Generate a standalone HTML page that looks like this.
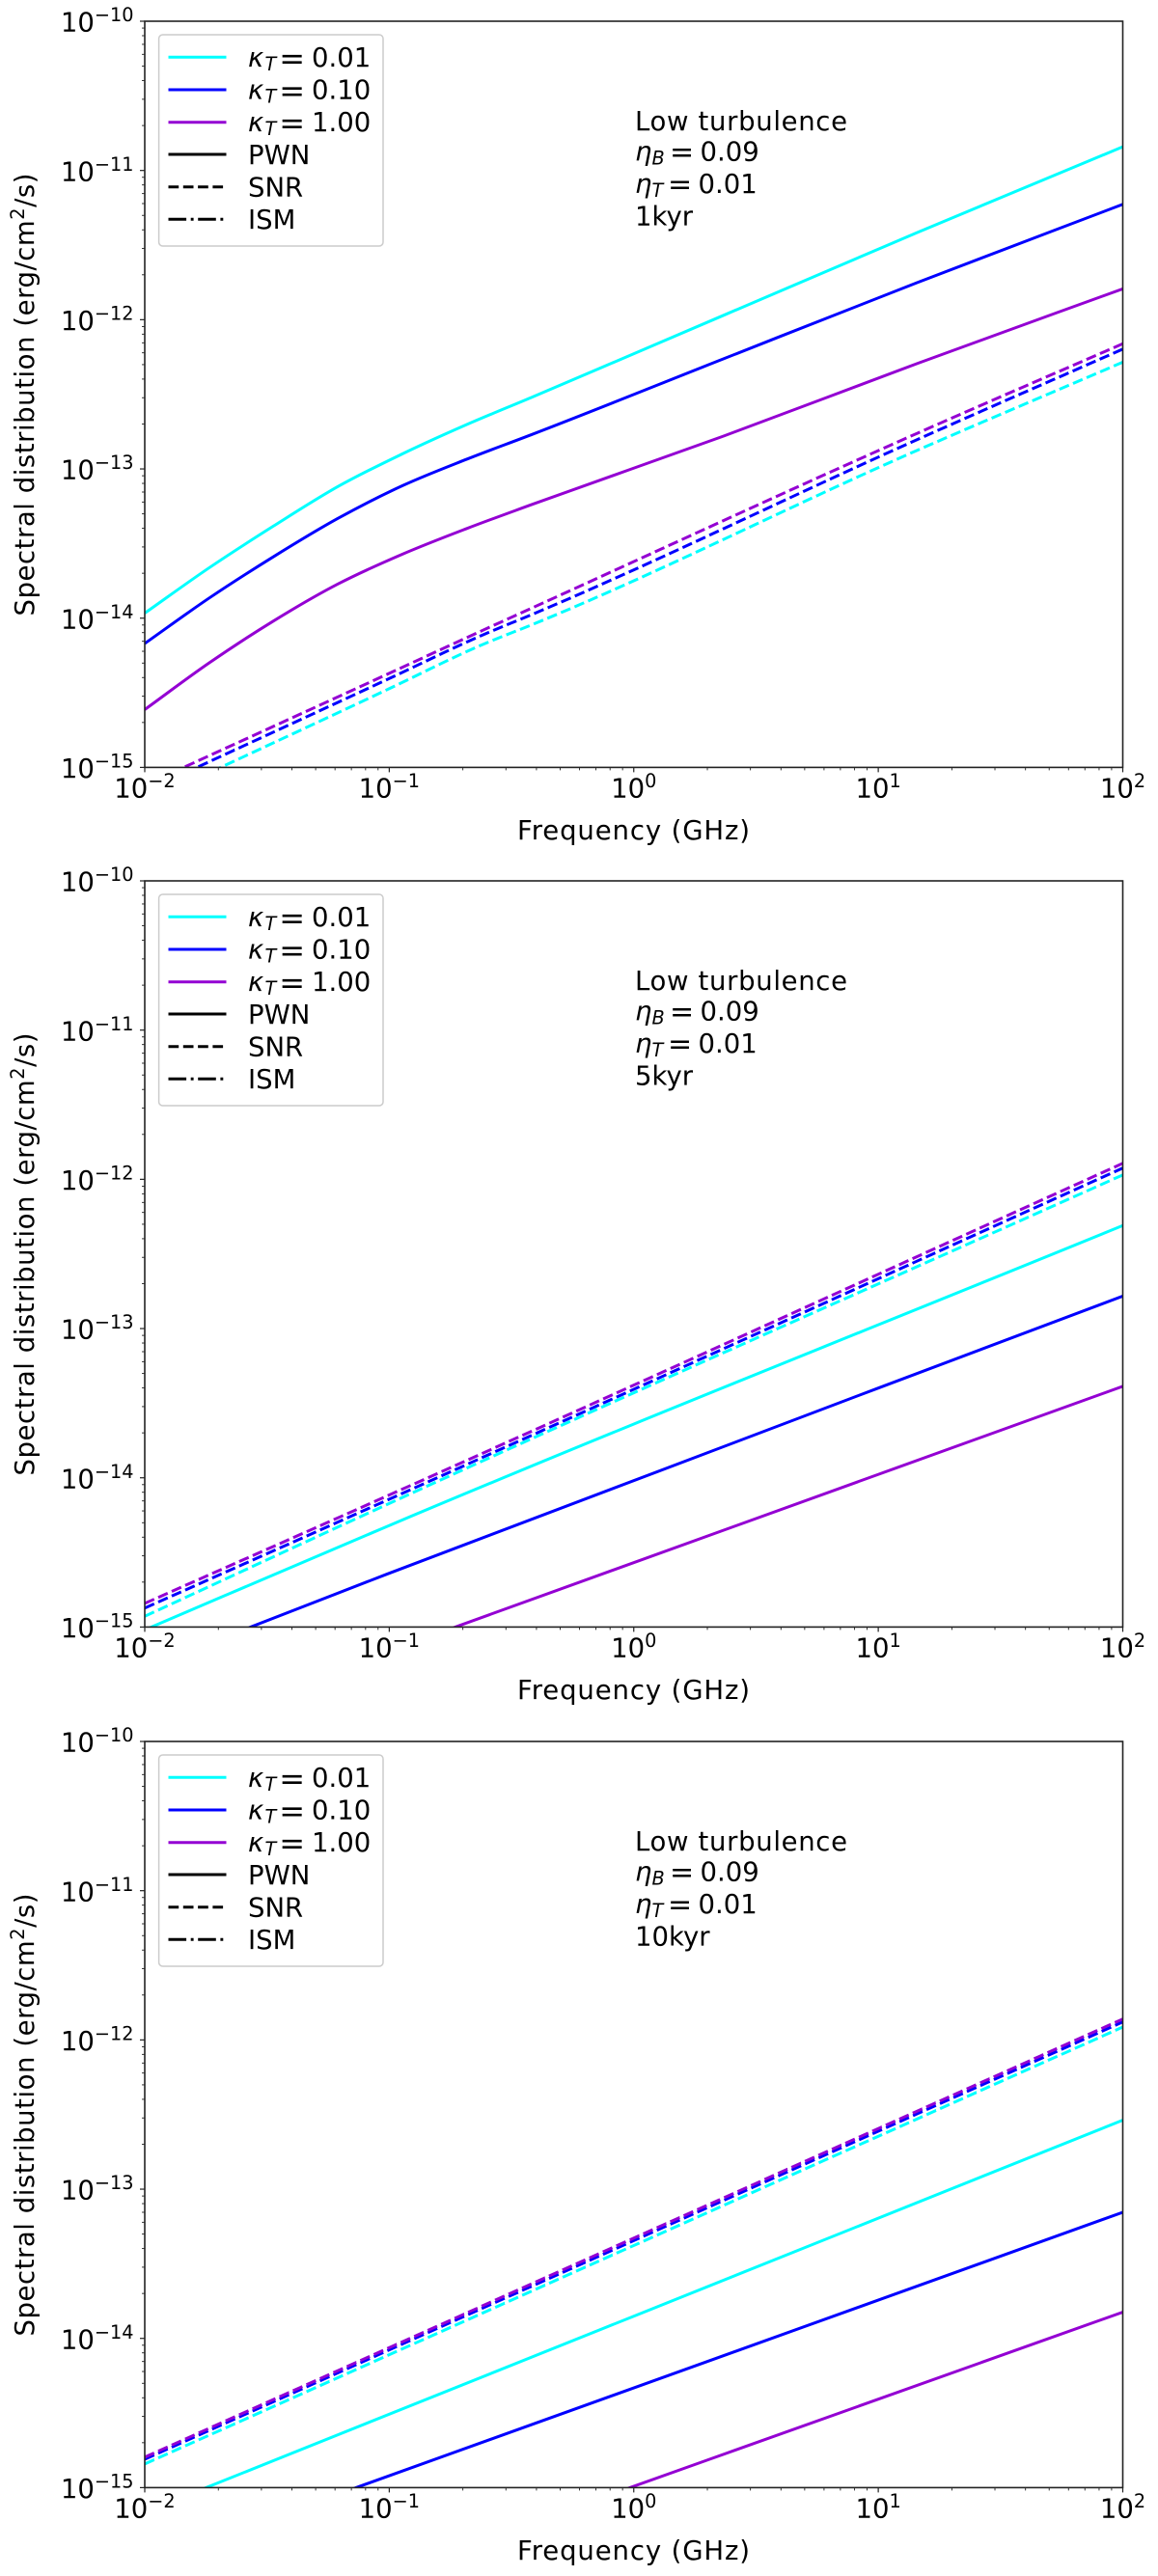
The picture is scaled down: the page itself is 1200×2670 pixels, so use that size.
<!DOCTYPE html>
<html lang="en">
<head>
<meta charset="utf-8">
<title>Spectral distribution panels</title>
<style>
html,body{margin:0;padding:0;background:#fff;}
svg{display:block;}
text{font-family:"DejaVu Sans","Liberation Sans",sans-serif;fill:#000;font-size:27.5px;}
.it{font-style:italic;}
.sub{font-style:italic;font-size:19.25px;}
.sup{font-size:19.25px;}
.eq{font-size:32px;}
.eqa{font-size:30px;}
.ln{fill:none;stroke-width:3;}
</style>
</head>
<body>
<svg id="figure" xmlns="http://www.w3.org/2000/svg" width="1200" height="2670" viewBox="0 0 1200 2670">
<rect x="0" y="0" width="1200" height="2670" fill="#fff"/>
<defs>
<clipPath id="clip-0"><rect x="150" y="22" width="1013.5" height="773.4"/></clipPath>
<clipPath id="clip-1"><rect x="150" y="913" width="1013.5" height="773.4"/></clipPath>
<clipPath id="clip-2"><rect x="150" y="1805" width="1013.5" height="773.4"/></clipPath>
</defs>

<!-- PANEL 1 -->
<g id="panel-0">
<g id="series-0" clip-path="url(#clip-0)"></g>
<g id="ticks-0"></g>
<rect x="150" y="22" width="1013.5" height="773.4" fill="none" stroke="#222" stroke-width="1.6"/>
<text transform="translate(35,638.5) rotate(-90)" textLength="459" lengthAdjust="spacing">Spectral distribution (erg/cm<tspan class="sup" dy="-10">2</tspan><tspan dy="10">/s)</tspan></text>
<text x="536" y="870" textLength="241" lengthAdjust="spacing">Frequency (GHz)</text>
<g>
<rect x="164.6" y="36" width="232.4" height="219" rx="4" fill="#fff" stroke="#ccc" stroke-width="1.5"/>
<line x1="174.5" x2="234.5" y1="59.3" y2="59.3" class="ln" stroke="#00ffff"/>
<text x="257" y="69"><tspan class="it">κ</tspan><tspan class="sub" x="274.5" dy="4">T</tspan><tspan class="eq" x="289.3" dy="-1.5">=</tspan><tspan x="323" dy="-2.5">0.01</tspan></text>
<line x1="174.5" x2="234.5" y1="93" y2="93" class="ln" stroke="#0000ff"/>
<text x="257" y="102.6"><tspan class="it">κ</tspan><tspan class="sub" x="274.5" dy="4">T</tspan><tspan class="eq" x="289.3" dy="-1.5">=</tspan><tspan x="323" dy="-2.5">0.10</tspan></text>
<line x1="174.5" x2="234.5" y1="126.7" y2="126.7" class="ln" stroke="#9400d3"/>
<text x="257" y="136.2"><tspan class="it">κ</tspan><tspan class="sub" x="274.5" dy="4">T</tspan><tspan class="eq" x="289.3" dy="-1.5">=</tspan><tspan x="323" dy="-2.5">1.00</tspan></text>
<line x1="174.5" x2="234.5" y1="160" y2="160" class="ln" stroke="#000"/>
<text x="257" y="169.8">PWN</text>
<line x1="174.5" x2="234.5" y1="193.7" y2="193.7" class="ln" stroke="#000" stroke-dasharray="10.7 4.6"/>
<text x="257" y="203.4">SNR</text>
<line x1="174.5" x2="234.5" y1="227.3" y2="227.3" class="ln" stroke="#000" stroke-dasharray="18.6 4.6 2.9 4.6"/>
<text x="257" y="237">ISM</text>
</g>
<g>
<text x="658" y="135" textLength="220" lengthAdjust="spacing">Low turbulence</text>
<text x="658" y="166.7"><tspan class="it">η</tspan><tspan class="sub" x="675.5" dy="4">B</tspan><tspan class="eqa" x="694" dy="-3">=</tspan><tspan x="725.5" dy="-1">0.09</tspan></text>
<text x="658" y="200"><tspan class="it">η</tspan><tspan class="sub" x="675.5" dy="4">T</tspan><tspan class="eqa" x="692" dy="-3">=</tspan><tspan x="723.5" dy="-1">0.01</tspan></text>
<text x="658" y="233.3">1kyr</text>
</g>
</g>

<!-- PANEL 2 -->
<g id="panel-1">
<g id="series-1" clip-path="url(#clip-1)"></g>
<g id="ticks-1"></g>
<rect x="150" y="913" width="1013.5" height="773.4" fill="none" stroke="#222" stroke-width="1.6"/>
<g transform="translate(0,891)">
<text transform="translate(35,638.5) rotate(-90)" textLength="459" lengthAdjust="spacing">Spectral distribution (erg/cm<tspan class="sup" dy="-10">2</tspan><tspan dy="10">/s)</tspan></text>
<text x="536" y="870" textLength="241" lengthAdjust="spacing">Frequency (GHz)</text>
<g>
<rect x="164.6" y="36" width="232.4" height="219" rx="4" fill="#fff" stroke="#ccc" stroke-width="1.5"/>
<line x1="174.5" x2="234.5" y1="59.3" y2="59.3" class="ln" stroke="#00ffff"/>
<text x="257" y="69"><tspan class="it">κ</tspan><tspan class="sub" x="274.5" dy="4">T</tspan><tspan class="eq" x="289.3" dy="-1.5">=</tspan><tspan x="323" dy="-2.5">0.01</tspan></text>
<line x1="174.5" x2="234.5" y1="93" y2="93" class="ln" stroke="#0000ff"/>
<text x="257" y="102.6"><tspan class="it">κ</tspan><tspan class="sub" x="274.5" dy="4">T</tspan><tspan class="eq" x="289.3" dy="-1.5">=</tspan><tspan x="323" dy="-2.5">0.10</tspan></text>
<line x1="174.5" x2="234.5" y1="126.7" y2="126.7" class="ln" stroke="#9400d3"/>
<text x="257" y="136.2"><tspan class="it">κ</tspan><tspan class="sub" x="274.5" dy="4">T</tspan><tspan class="eq" x="289.3" dy="-1.5">=</tspan><tspan x="323" dy="-2.5">1.00</tspan></text>
<line x1="174.5" x2="234.5" y1="160" y2="160" class="ln" stroke="#000"/>
<text x="257" y="169.8">PWN</text>
<line x1="174.5" x2="234.5" y1="193.7" y2="193.7" class="ln" stroke="#000" stroke-dasharray="10.7 4.6"/>
<text x="257" y="203.4">SNR</text>
<line x1="174.5" x2="234.5" y1="227.3" y2="227.3" class="ln" stroke="#000" stroke-dasharray="18.6 4.6 2.9 4.6"/>
<text x="257" y="237">ISM</text>
</g>
<g>
<text x="658" y="135" textLength="220" lengthAdjust="spacing">Low turbulence</text>
<text x="658" y="166.7"><tspan class="it">η</tspan><tspan class="sub" x="675.5" dy="4">B</tspan><tspan class="eqa" x="694" dy="-3">=</tspan><tspan x="725.5" dy="-1">0.09</tspan></text>
<text x="658" y="200"><tspan class="it">η</tspan><tspan class="sub" x="675.5" dy="4">T</tspan><tspan class="eqa" x="692" dy="-3">=</tspan><tspan x="723.5" dy="-1">0.01</tspan></text>
<text x="658" y="233.3">5kyr</text>
</g>
</g>
</g>

<!-- PANEL 3 -->
<g id="panel-2">
<g id="series-2" clip-path="url(#clip-2)"></g>
<g id="ticks-2"></g>
<rect x="150" y="1805" width="1013.5" height="773.4" fill="none" stroke="#222" stroke-width="1.6"/>
<g transform="translate(0,1783)">
<text transform="translate(35,638.5) rotate(-90)" textLength="459" lengthAdjust="spacing">Spectral distribution (erg/cm<tspan class="sup" dy="-10">2</tspan><tspan dy="10">/s)</tspan></text>
<text x="536" y="870" textLength="241" lengthAdjust="spacing">Frequency (GHz)</text>
<g>
<rect x="164.6" y="36" width="232.4" height="219" rx="4" fill="#fff" stroke="#ccc" stroke-width="1.5"/>
<line x1="174.5" x2="234.5" y1="59.3" y2="59.3" class="ln" stroke="#00ffff"/>
<text x="257" y="69"><tspan class="it">κ</tspan><tspan class="sub" x="274.5" dy="4">T</tspan><tspan class="eq" x="289.3" dy="-1.5">=</tspan><tspan x="323" dy="-2.5">0.01</tspan></text>
<line x1="174.5" x2="234.5" y1="93" y2="93" class="ln" stroke="#0000ff"/>
<text x="257" y="102.6"><tspan class="it">κ</tspan><tspan class="sub" x="274.5" dy="4">T</tspan><tspan class="eq" x="289.3" dy="-1.5">=</tspan><tspan x="323" dy="-2.5">0.10</tspan></text>
<line x1="174.5" x2="234.5" y1="126.7" y2="126.7" class="ln" stroke="#9400d3"/>
<text x="257" y="136.2"><tspan class="it">κ</tspan><tspan class="sub" x="274.5" dy="4">T</tspan><tspan class="eq" x="289.3" dy="-1.5">=</tspan><tspan x="323" dy="-2.5">1.00</tspan></text>
<line x1="174.5" x2="234.5" y1="160" y2="160" class="ln" stroke="#000"/>
<text x="257" y="169.8">PWN</text>
<line x1="174.5" x2="234.5" y1="193.7" y2="193.7" class="ln" stroke="#000" stroke-dasharray="10.7 4.6"/>
<text x="257" y="203.4">SNR</text>
<line x1="174.5" x2="234.5" y1="227.3" y2="227.3" class="ln" stroke="#000" stroke-dasharray="18.6 4.6 2.9 4.6"/>
<text x="257" y="237">ISM</text>
</g>
<g>
<text x="658" y="135" textLength="220" lengthAdjust="spacing">Low turbulence</text>
<text x="658" y="166.7"><tspan class="it">η</tspan><tspan class="sub" x="675.5" dy="4">B</tspan><tspan class="eqa" x="694" dy="-3">=</tspan><tspan x="725.5" dy="-1">0.09</tspan></text>
<text x="658" y="200"><tspan class="it">η</tspan><tspan class="sub" x="675.5" dy="4">T</tspan><tspan class="eqa" x="692" dy="-3">=</tspan><tspan x="723.5" dy="-1">0.01</tspan></text>
<text x="658" y="233.3">10kyr</text>
</g>
</g>
</g>
</svg>

<script>
// Tick exponents (log10 of frequency and flux) and minor-tick multipliers
const xTickExponents = [-2, -1, 0, 1, 2];
const yTickExponents = [-10, -11, -12, -13, -14, -15];
const minorMultipliers = [2, 3, 4, 5, 6, 7, 8, 9];

// Panel 1: 1 kyr. Frequency in GHz, flux in erg/cm2/s
const freq1kyrPwn = [0.01, 0.0183, 0.0336, 0.0615, 0.113, 0.207, 0.379, 2.33, 14.4, 100];
const pwn1kyrK001 = [1.08e-14, 2.17e-14, 4.14e-14, 7.6e-14, 1.26e-13, 1.98e-13, 3.00e-13, 1.07e-12, 3.83e-12, 1.44e-11];
const pwn1kyrK010 = [6.76e-15, 1.36e-14, 2.58e-14, 4.65e-14, 7.71e-14, 1.16e-13, 1.69e-13, 5.47e-13, 1.77e-12, 5.93e-12];
const pwn1kyrK100 = [2.44e-15, 5.0e-15, 9.57e-15, 1.69e-14, 2.68e-14, 3.98e-14, 5.74e-14, 1.66e-13, 5.08e-13, 1.61e-12];
const freq1kyrSnr = [0.01, 0.1, 0.24, 0.379, 14.4, 100];
const snr1kyrK001 = [5.8e-16, 3.37e-15, 6.64e-15, 8.97e-15, 1.33e-13, 5.19e-13];
const snr1kyrK010 = [6.9e-16, 3.94e-15, 7.69e-15, 1.05e-14, 1.57e-13, 6.35e-13];
const snr1kyrK100 = [7.6e-16, 4.27e-15, 8.26e-15, 1.16e-14, 1.73e-13, 6.9e-13];

// Panel 2: 5 kyr
const freq5kyr = [0.01, 0.097, 100];
const pwn5kyrK001 = [9.57e-16, 4.69e-15, 4.9e-13];
const pwn5kyrK010 = [5.3e-16, 2.25e-15, 1.65e-13];
const pwn5kyrK100 = [1.76e-16, 6.8e-16, 4.1e-14];
const snr5kyrK001 = [1.18e-15, 6.58e-15, 1.07e-12];
const snr5kyrK010 = [1.34e-15, 7.03e-15, 1.19e-12];
const snr5kyrK100 = [1.44e-15, 7.5e-15, 1.28e-12];

// Panel 3: 10 kyr
const freq10kyr = [0.01, 100];
const pwn10kyrK001 = [6.84e-16, 2.9e-13];
const pwn10kyrK010 = [3.1e-16, 7.0e-14];
const pwn10kyrK100 = [6.95e-17, 1.5e-14];
const snr10kyrK001 = [1.44e-15, 1.22e-12];
const snr10kyrK010 = [1.55e-15, 1.32e-12];
const snr10kyrK100 = [1.6e-15, 1.38e-12];

// Layout (not data)
const SVGNS = 'http://www.w3.org/2000/svg';
const AX_LEFT = 150, AX_RIGHT = 1163.5, AX_HEIGHT = 773.4;
const X_MIN_EXP = -2, X_MAX_EXP = 2, Y_MAX_EXP = -10, Y_MIN_EXP = -15;
const PANEL_TOPS = [22, 913, 1805];
const COLOR_K001 = '#00ffff', COLOR_K010 = '#0000ff', COLOR_K100 = '#9400d3';

function xScale(freq) {
  return AX_LEFT + (Math.log10(freq) - X_MIN_EXP) / (X_MAX_EXP - X_MIN_EXP) * (AX_RIGHT - AX_LEFT);
}
function yScale(flux, top) {
  return top + (Y_MAX_EXP - Math.log10(flux)) / (Y_MAX_EXP - Y_MIN_EXP) * AX_HEIGHT;
}
function svgEl(tag, attrs, parent) {
  const el = document.createElementNS(SVGNS, tag);
  Object.keys(attrs).forEach(function (k) { el.setAttribute(k, attrs[k]); });
  parent.appendChild(el);
  return el;
}
function fillPowerLabel(el, exponent) {
  const base = svgEl('tspan', {}, el);
  base.textContent = '10';
  const sup = svgEl('tspan', { 'class': 'sup', dy: -10.5 }, el);
  sup.textContent = String(exponent).replace('-', '\u2212');
}
function drawTicks(panelIndex) {
  const top = PANEL_TOPS[panelIndex];
  const bottom = top + AX_HEIGHT;
  const g = document.getElementById('ticks-' + panelIndex);
  xTickExponents.forEach(function (exp) {
    const x = xScale(Math.pow(10, exp));
    const tick = svgEl('line', { x1: x, x2: x, y1: bottom, y2: bottom + 5, stroke: '#222', 'stroke-width': 1.2 }, g);
    
    
    const label = svgEl('text', { x: x, y: bottom + 31.3, 'text-anchor': 'middle' }, g);
    
    
    fillPowerLabel(label, exp);
    if (exp < X_MAX_EXP) {
      minorMultipliers.forEach(function (m) {
        const mx = xScale(m * Math.pow(10, exp));
        const minor = svgEl('line', { x1: mx, x2: mx, y1: bottom, y2: bottom + 3, stroke: '#222', 'stroke-width': 0.9 }, g);
        
        
      });
    }
  });
  yTickExponents.forEach(function (exp) {
    const y = yScale(Math.pow(10, exp), top);
    const tick = svgEl('line', { x1: AX_LEFT - 5, x2: AX_LEFT, y1: y, y2: y, stroke: '#222', 'stroke-width': 1.2 }, g);
    
    
    const label = svgEl('text', { x: 138.5, y: y + 10.7, 'text-anchor': 'end' }, g);
    
    
    fillPowerLabel(label, exp);
    if (exp > Y_MIN_EXP) {
      minorMultipliers.forEach(function (m) {
        const my = yScale(m * Math.pow(10, exp - 1), top);
        const minor = svgEl('line', { x1: AX_LEFT - 3, x2: AX_LEFT, y1: my, y2: my, stroke: '#222', 'stroke-width': 0.9 }, g);
        
        
      });
    }
  });
}
// Smooth path through the projected points (parabolic tangents, Bezier segments)
function smoothPath(xs, ys) {
  const n = xs.length;
  const slopes = [];
  for (let i = 0; i < n - 1; i++) { slopes.push((ys[i + 1] - ys[i]) / (xs[i + 1] - xs[i])); }
  const tangents = xs.map(function (x, i) {
    if (i === 0) { return slopes[0]; }
    if (i === n - 1) { return slopes[n - 2]; }
    const h0 = xs[i] - xs[i - 1], h1 = xs[i + 1] - xs[i];
    return (h1 * slopes[i - 1] + h0 * slopes[i]) / (h0 + h1);
  });
  let d = 'M' + xs[0].toFixed(2) + ' ' + ys[0].toFixed(2);
  for (let i = 0; i < n - 1; i++) {
    const dx = (xs[i + 1] - xs[i]) / 3;
    d += 'C' + (xs[i] + dx).toFixed(2) + ' ' + (ys[i] + tangents[i] * dx).toFixed(2) + ' ' +
      (xs[i + 1] - dx).toFixed(2) + ' ' + (ys[i + 1] - tangents[i + 1] * dx).toFixed(2) + ' ' +
      xs[i + 1].toFixed(2) + ' ' + ys[i + 1].toFixed(2);
  }
  return d;
}
function drawSeries(panelIndex, seriesName, freqs, fluxes, color, dashed) {
  const top = PANEL_TOPS[panelIndex];
  const xs = freqs.map(function (f) { return xScale(f); });
  const ys = fluxes.map(function (v) { return yScale(v, top); });
  const attrs = { d: smoothPath(xs, ys), fill: 'none', stroke: color, 'stroke-width': 3, 'stroke-linejoin': 'round' };
  if (dashed) { attrs['stroke-dasharray'] = '10.7 4.6'; }
  const line = svgEl('path', attrs, document.getElementById('series-' + panelIndex));
  
  
}

[0, 1, 2].forEach(drawTicks);

drawSeries(0, 'pwn-kappa-0.01', freq1kyrPwn, pwn1kyrK001, COLOR_K001, false);
drawSeries(0, 'pwn-kappa-0.10', freq1kyrPwn, pwn1kyrK010, COLOR_K010, false);
drawSeries(0, 'pwn-kappa-1.00', freq1kyrPwn, pwn1kyrK100, COLOR_K100, false);
drawSeries(0, 'snr-kappa-0.01', freq1kyrSnr, snr1kyrK001, COLOR_K001, true);
drawSeries(0, 'snr-kappa-0.10', freq1kyrSnr, snr1kyrK010, COLOR_K010, true);
drawSeries(0, 'snr-kappa-1.00', freq1kyrSnr, snr1kyrK100, COLOR_K100, true);

drawSeries(1, 'pwn-kappa-0.01', freq5kyr, pwn5kyrK001, COLOR_K001, false);
drawSeries(1, 'pwn-kappa-0.10', freq5kyr, pwn5kyrK010, COLOR_K010, false);
drawSeries(1, 'pwn-kappa-1.00', freq5kyr, pwn5kyrK100, COLOR_K100, false);
drawSeries(1, 'snr-kappa-0.01', freq5kyr, snr5kyrK001, COLOR_K001, true);
drawSeries(1, 'snr-kappa-0.10', freq5kyr, snr5kyrK010, COLOR_K010, true);
drawSeries(1, 'snr-kappa-1.00', freq5kyr, snr5kyrK100, COLOR_K100, true);

drawSeries(2, 'pwn-kappa-0.01', freq10kyr, pwn10kyrK001, COLOR_K001, false);
drawSeries(2, 'pwn-kappa-0.10', freq10kyr, pwn10kyrK010, COLOR_K010, false);
drawSeries(2, 'pwn-kappa-1.00', freq10kyr, pwn10kyrK100, COLOR_K100, false);
drawSeries(2, 'snr-kappa-0.01', freq10kyr, snr10kyrK001, COLOR_K001, true);
drawSeries(2, 'snr-kappa-0.10', freq10kyr, snr10kyrK010, COLOR_K010, true);
drawSeries(2, 'snr-kappa-1.00', freq10kyr, snr10kyrK100, COLOR_K100, true);
</script>
</body>
</html>
